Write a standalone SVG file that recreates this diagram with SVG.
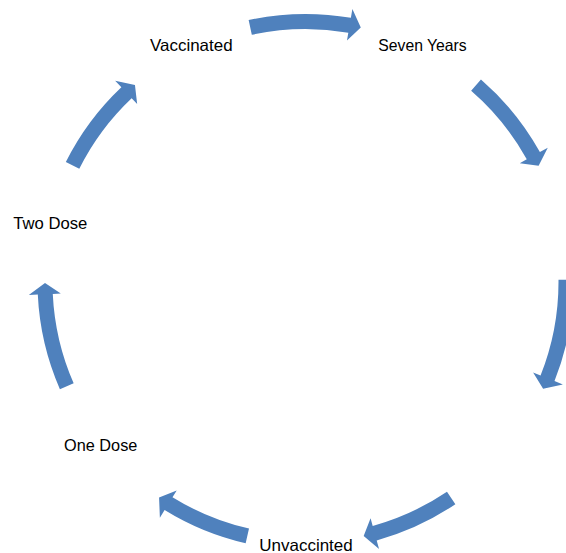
<svg xmlns="http://www.w3.org/2000/svg" width="566" height="553" viewBox="0 0 566 553">
<style>
.arr{fill:#4F81BD;stroke:none}
.lbl{font-family:"Liberation Sans",Arial,sans-serif;font-size:16.5px;fill:#000;text-anchor:middle}
</style>
<rect width="566" height="553" fill="#fff"/>
<g id="connectors">
<path class="arr" d="M248.63,20.11 A268,268 0 0 1 350.87,17.86 L352.40,8.99 L360.78,27.44 L346.98,40.53 L348.33,32.64 A253,253 0 0 0 251.81,34.77 Z"/>
<path class="arr" d="M480.96,79.42 A268,268 0 0 1 539.89,152.07 L547.76,147.71 L538.62,165.76 L519.78,163.22 L526.77,159.35 A253,253 0 0 0 471.14,90.76 Z"/>
<path class="arr" d="M573.49,279.66 A268,268 0 0 1 554.50,381.08 L562.86,384.41 L543.10,388.78 L533.13,372.58 L540.56,375.53 A253,253 0 0 0 558.49,279.79 Z"/>
<path class="arr" d="M455.37,504.17 A268,268 0 0 1 376.68,540.38 L379.07,549.06 L363.67,535.94 L370.57,518.20 L372.70,525.92 A253,253 0 0 0 446.98,491.74 Z"/>
<path class="arr" d="M245.66,543.25 A268,268 0 0 1 164.61,509.99 L159.88,517.64 L159.07,497.46 L176.70,490.42 L172.50,497.23 A253,253 0 0 0 249.01,528.62 Z"/>
<path class="arr" d="M59.90,389.28 A268,268 0 0 1 37.79,294.62 L28.81,295.05 L45.00,282.91 L60.77,293.54 L52.78,293.92 A253,253 0 0 0 73.65,383.28 Z"/>
<path class="arr" d="M65.85,162.02 A268,268 0 0 1 121.36,87.27 L115.17,80.73 L134.95,85.09 L137.16,103.98 L131.66,98.17 A253,253 0 0 0 79.27,168.73 Z"/>
</g>
<g id="node-vaccinated"><text class="lbl" x="191.3" y="51" textLength="82.7" lengthAdjust="spacingAndGlyphs">Vaccinated</text></g>
<g id="node-seven-years"><text class="lbl" x="422.5" y="51" textLength="88.4" lengthAdjust="spacingAndGlyphs">Seven Years</text></g>
<g id="node-two-dose"><text class="lbl" x="50.3" y="228.5" textLength="74" lengthAdjust="spacingAndGlyphs">Two Dose</text></g>
<g id="node-one-dose"><text class="lbl" x="100.7" y="451" textLength="73.3" lengthAdjust="spacingAndGlyphs">One Dose</text></g>
<g id="node-unvaccinted"><text class="lbl" x="306" y="551" textLength="93.5" lengthAdjust="spacingAndGlyphs">Unvaccinted</text></g>
</svg>
